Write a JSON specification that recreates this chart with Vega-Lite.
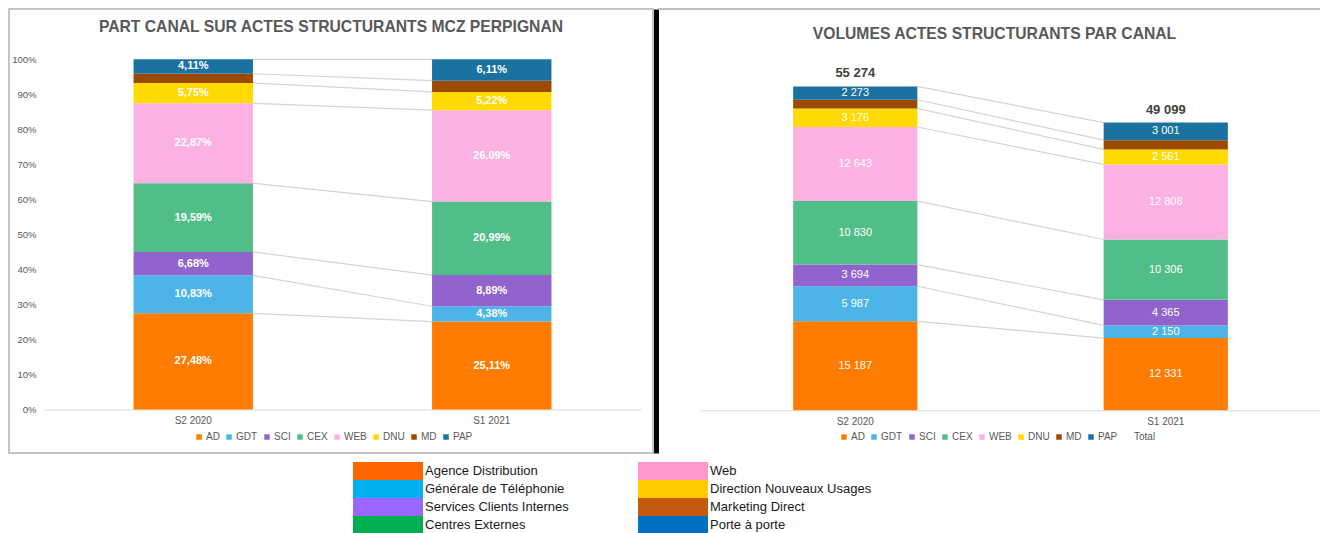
{
  "$schema": "https://vega.github.io/schema/vega-lite/v6.json",
  "background": "#ffffff",
  "padding": {"left": 8, "top": 8, "right": 0, "bottom": 0},
  "config": {
    "font": "Liberation Sans",
    "locale": {"number": {"decimal": ",", "thousands": " ", "grouping": [3], "currency": ["", " €"]}}
  },
  "datasets": {
    "parts": [
      {"periode": "S2 2020", "canal": "AD", "part": 0.2748},
      {"periode": "S2 2020", "canal": "GDT", "part": 0.1083},
      {"periode": "S2 2020", "canal": "SCI", "part": 0.0668},
      {"periode": "S2 2020", "canal": "CEX", "part": 0.1959},
      {"periode": "S2 2020", "canal": "WEB", "part": 0.2287},
      {"periode": "S2 2020", "canal": "DNU", "part": 0.0575},
      {"periode": "S2 2020", "canal": "MD", "part": 0.0269},
      {"periode": "S2 2020", "canal": "PAP", "part": 0.0411},
      {"periode": "S1 2021", "canal": "AD", "part": 0.2511},
      {"periode": "S1 2021", "canal": "GDT", "part": 0.0438},
      {"periode": "S1 2021", "canal": "SCI", "part": 0.0889},
      {"periode": "S1 2021", "canal": "CEX", "part": 0.2099},
      {"periode": "S1 2021", "canal": "WEB", "part": 0.2609},
      {"periode": "S1 2021", "canal": "DNU", "part": 0.0522},
      {"periode": "S1 2021", "canal": "MD", "part": 0.0321},
      {"periode": "S1 2021", "canal": "PAP", "part": 0.0611}
    ],
    "volumes": [
      {"periode": "S2 2020", "canal": "AD", "volume": 15187},
      {"periode": "S2 2020", "canal": "GDT", "volume": 5987},
      {"periode": "S2 2020", "canal": "SCI", "volume": 3694},
      {"periode": "S2 2020", "canal": "CEX", "volume": 10830},
      {"periode": "S2 2020", "canal": "WEB", "volume": 12643},
      {"periode": "S2 2020", "canal": "DNU", "volume": 3176},
      {"periode": "S2 2020", "canal": "MD", "volume": 1484},
      {"periode": "S2 2020", "canal": "PAP", "volume": 2273},
      {"periode": "S1 2021", "canal": "AD", "volume": 12331},
      {"periode": "S1 2021", "canal": "GDT", "volume": 2150},
      {"periode": "S1 2021", "canal": "SCI", "volume": 4365},
      {"periode": "S1 2021", "canal": "CEX", "volume": 10306},
      {"periode": "S1 2021", "canal": "WEB", "volume": 12808},
      {"periode": "S1 2021", "canal": "DNU", "volume": 2561},
      {"periode": "S1 2021", "canal": "MD", "volume": 1577},
      {"periode": "S1 2021", "canal": "PAP", "volume": 3001}
    ],
    "totaux": [
      {"periode": "S2 2020", "total": 55274},
      {"periode": "S1 2021", "total": 49099}
    ],
    "libelles": [
      {"libelle": "Agence Distribution"},
      {"libelle": "Générale de Téléphonie"},
      {"libelle": "Services Clients Internes"},
      {"libelle": "Centres Externes"},
      {"libelle": "Web"},
      {"libelle": "Direction Nouveaux Usages"},
      {"libelle": "Marketing Direct"},
      {"libelle": "Porte à porte"}
    ]
  },
  "bounds": "flush",
  "spacing": 5,
  "resolve": {
    "scale": {"x": "independent", "y": "independent", "color": "independent"},
    "legend": {"color": "independent"}
  },
  "hconcat": [
    {
      "width": 644,
      "height": 444,
      "view": {"stroke": "#b3b3b3", "strokeWidth": 1.5},
      "title": {
        "text": "PART CANAL SUR ACTES STRUCTURANTS MCZ PERPIGNAN",
        "anchor": "middle",
        "offset": -27,
        "fontSize": 15.7,
        "fontWeight": "bold",
        "color": "#595959",
        "font": "Liberation Sans"
      },
      "resolve": {
        "scale": {"color": "independent"},
        "legend": {"color": "independent"},
        "axis": {"y": "independent"}
      },
      "layer": [
        {
          "data": {"name": "parts"},
          "transform": [
            {"stack": "part", "groupby": ["periode"], "as": ["y0", "y1"]},
            {"pivot": "periode", "value": "y1", "groupby": ["canal"]}
          ],
          "mark": {"type": "rule", "color": "#d4d4d4", "strokeWidth": 1.2},
          "encoding": {
            "x": {"datum": "S2 2020", "type": "nominal", "bandPosition": 1, "title": null},
            "x2": {"datum": "S1 2021", "bandPosition": 0},
            "y": {"field": "S2 2020", "type": "quantitative", "axis": null},
            "y2": {"field": "S1 2021"}
          }
        },
        {
          "data": {"name": "parts"},
          "transform": [
            {"stack": "part", "groupby": ["periode"], "as": ["y0", "y1"]}
          ],
          "mark": {"type": "bar"},
          "encoding": {
            "x": {
              "field": "periode",
              "type": "nominal",
              "title": null,
              "scale": {"domain": ["S2 2020", "S1 2021"], "range": [35, 632], "paddingInner": 0.6, "paddingOuter": 0.3},
              "axis": {
                "orient": "bottom", "offset": -43.5, "domain": true, "domainColor": "#d9d9d9", "domainWidth": 1,
                "ticks": false, "tickSize": 0, "labelPadding": 11, "labelAngle": 0, "labelAlign": "center", "labelBaseline": "middle",
                "labelFontSize": 10, "labelColor": "#595959", "labelFont": "Liberation Sans", "grid": false
              }
            },
            "y": {
              "field": "y1",
              "type": "quantitative",
              "title": null,
              "scale": {"domain": [-0.12421, 1.14363], "nice": false, "zero": false},
              "axis": {
                "orient": "left", "offset": -27, "domain": false, "ticks": false, "tickSize": 0, "labelPadding": 0,
                "grid": false, "values": [0, 0.1, 0.2, 0.3, 0.4, 0.5, 0.6, 0.7, 0.8, 0.9, 1],
                "format": ".0%", "labelFontSize": 9.5, "labelColor": "#595959", "labelFont": "Liberation Sans"
              }
            },
            "y2": {"field": "y0"},
            "color": {
              "field": "canal",
              "type": "nominal",
              "scale": {
                "domain": ["AD", "GDT", "SCI", "CEX", "WEB", "DNU", "MD", "PAP"],
                "range": ["#ff7c00", "#4cb4e6", "#9063cd", "#52be87", "#fbb1e2", "#ffd900", "#9b4a00", "#1b72a0"]
              },
              "legend": {
                "title": null, "orient": "none", "legendX": 185, "legendY": 423, "direction": "horizontal",
                "symbolType": "square", "symbolSize": 30, "symbolStrokeWidth": 0, "labelOffset": 2,
                "columnPadding": 4, "labelFontSize": 10, "labelColor": "#595959", "labelFont": "Liberation Sans", "padding": 0
              }
            }
          }
        },
        {
          "data": {"name": "parts"},
          "transform": [
            {"stack": "part", "groupby": ["periode"], "as": ["y0", "y1"]},
            {"calculate": "(datum.y0 + datum.y1) / 2", "as": "ymid"},
            {"filter": "datum.canal != 'MD'"}
          ],
          "mark": {"type": "text", "color": "#ffffff", "fontWeight": "bold", "fontSize": 11, "baseline": "middle", "font": "Liberation Sans"},
          "encoding": {
            "x": {"field": "periode", "type": "nominal", "title": null},
            "y": {
              "field": "ymid",
              "type": "quantitative",
              "axis": {
                "orient": "right", "offset": 3, "domain": true, "domainColor": "#000000", "domainWidth": 5,
                "ticks": false, "labels": false, "grid": false, "title": null
              }
            },
            "text": {"field": "part", "type": "quantitative", "format": ".2%"}
          }
        },
        {
          "data": {"name": "libelles"},
          "mark": {"type": "square", "size": 0},
          "encoding": {
            "color": {
              "field": "libelle",
              "type": "nominal",
              "scale": {
                "domain": ["Agence Distribution", "Générale de Téléphonie", "Services Clients Internes", "Centres Externes", "Web", "Direction Nouveaux Usages", "Marketing Direct", "Porte à porte"],
                "range": ["#ff6600", "#00b0f0", "#9966ff", "#00b050", "#ff99cc", "#ffcc00", "#c55a11", "#0070c0"]
              },
              "legend": {
                "title": null, "orient": "none", "legendX": 370, "legendY": 453, "columns": 2,
                "symbolType": "M-3.889,-1H3.889V1H-3.889Z", "symbolSize": 324, "symbolStrokeWidth": 0, "symbolOpacity": 1,
                "labelOffset": 28, "columnPadding": 68, "rowPadding": 0, "labelFontSize": 13, "labelColor": "#1a1a1a",
                "labelFont": "Liberation Sans", "labelLimit": 400, "padding": 0
              }
            }
          }
        }
      ]
    },
    {
      "width": 663,
      "height": 444,
      "view": {"stroke": "#bdbdbd", "strokeWidth": 2, "strokeDash": [663, 3000]},
      "title": {
        "text": "VOLUMES ACTES STRUCTURANTS PAR CANAL",
        "anchor": "middle",
        "offset": -33.5,
        "dx": 5,
        "fontSize": 15.7,
        "fontWeight": "bold",
        "color": "#595959",
        "font": "Liberation Sans"
      },
      "layer": [
        {
          "data": {"name": "volumes"},
          "transform": [
            {"stack": "volume", "groupby": ["periode"], "as": ["y0", "y1"]},
            {"pivot": "periode", "value": "y1", "groupby": ["canal"]}
          ],
          "mark": {"type": "rule", "color": "#d4d4d4", "strokeWidth": 1.2},
          "encoding": {
            "x": {"datum": "S2 2020", "type": "nominal", "bandPosition": 1, "title": null},
            "x2": {"datum": "S1 2021", "bandPosition": 0},
            "y": {"field": "S2 2020", "type": "quantitative", "axis": null},
            "y2": {"field": "S1 2021"}
          }
        },
        {
          "data": {"name": "volumes"},
          "transform": [
            {"stack": "volume", "groupby": ["periode"], "as": ["y0", "y1"]}
          ],
          "mark": {"type": "bar"},
          "encoding": {
            "x": {
              "field": "periode",
              "type": "nominal",
              "title": null,
              "scale": {"domain": ["S2 2020", "S1 2021"], "range": [42, 663], "paddingInner": 0.6, "paddingOuter": 0.3},
              "axis": {
                "orient": "bottom", "offset": -42.7, "domain": true, "domainColor": "#d9d9d9", "domainWidth": 1,
                "ticks": false, "tickSize": 0, "labelPadding": 11, "labelAngle": 0, "labelAlign": "center", "labelBaseline": "middle",
                "labelFontSize": 10, "labelColor": "#595959", "labelFont": "Liberation Sans", "grid": false
              }
            },
            "y": {
              "field": "y1",
              "type": "quantitative",
              "title": null,
              "scale": {"domain": [-7287, 68481], "nice": false, "zero": false},
              "axis": {
                "orient": "left", "offset": -31, "domain": false, "ticks": false, "tickSize": 0, "labelPadding": 0,
                "grid": false, "values": [0, 10000, 20000, 30000, 40000, 50000, 60000],
                "format": ",d", "labelFontSize": 9.5, "labelColor": "#595959", "labelFont": "Liberation Sans"
              }
            },
            "y2": {"field": "y0"},
            "color": {
              "field": "canal",
              "type": "nominal",
              "scale": {
                "domain": ["AD", "GDT", "SCI", "CEX", "WEB", "DNU", "MD", "PAP", "Total"],
                "range": ["#ff7c00", "#4cb4e6", "#9063cd", "#52be87", "#fbb1e2", "#ffd900", "#9b4a00", "#1b72a0", "#ffffff"]
              },
              "legend": {
                "title": null, "orient": "none", "legendX": 181, "legendY": 423, "direction": "horizontal",
                "symbolType": "square", "symbolSize": 30, "symbolStrokeWidth": 0, "labelOffset": 2,
                "columnPadding": 4, "labelFontSize": 10, "labelColor": "#595959", "labelFont": "Liberation Sans", "padding": 0
              }
            }
          }
        },
        {
          "data": {"name": "volumes"},
          "transform": [
            {"stack": "volume", "groupby": ["periode"], "as": ["y0", "y1"]},
            {"calculate": "(datum.y0 + datum.y1) / 2", "as": "ymid"},
            {"filter": "datum.canal != 'MD'"}
          ],
          "mark": {"type": "text", "color": "#ffffff", "fontSize": 11, "baseline": "middle", "font": "Liberation Sans"},
          "encoding": {
            "x": {"field": "periode", "type": "nominal", "title": null},
            "y": {"field": "ymid", "type": "quantitative"},
            "text": {"field": "volume", "type": "quantitative", "format": ",d"}
          }
        },
        {
          "data": {"name": "totaux"},
          "mark": {"type": "text", "color": "#404040", "fontSize": 13, "fontWeight": "bold", "baseline": "middle", "dy": -13, "font": "Liberation Sans"},
          "encoding": {
            "x": {"field": "periode", "type": "nominal", "title": null},
            "y": {"field": "total", "type": "quantitative"},
            "text": {"field": "total", "type": "quantitative", "format": ",d"}
          }
        }
      ]
    }
  ]
}
